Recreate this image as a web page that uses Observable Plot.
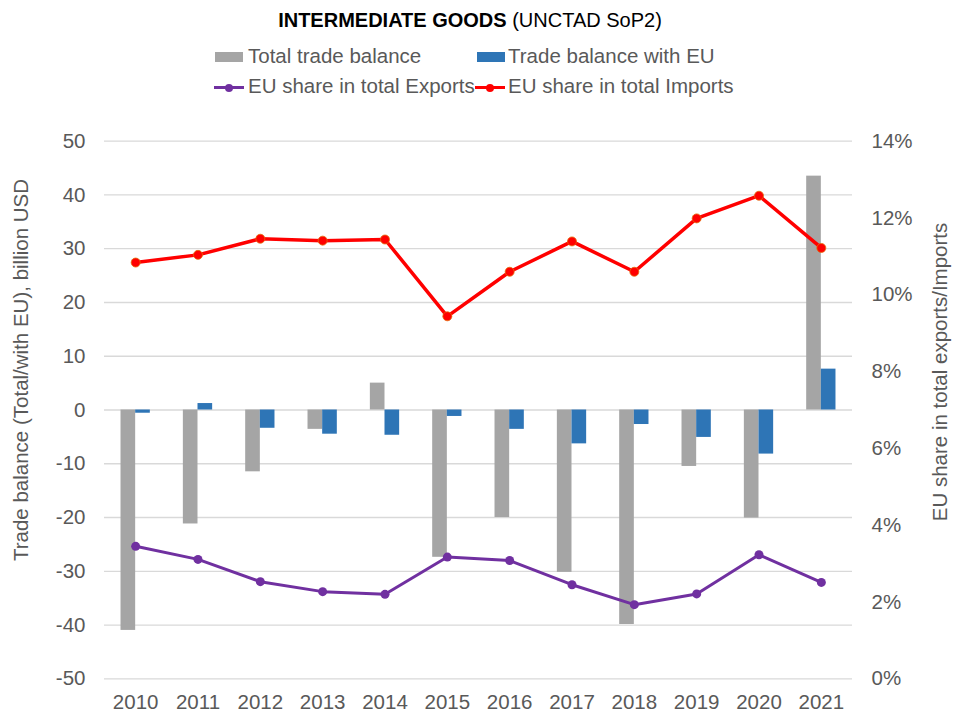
<!DOCTYPE html>
<html>
<head>
<meta charset="utf-8">
<script src="https://cdn.jsdelivr.net/npm/d3@7"></script>
<script src="https://cdn.jsdelivr.net/npm/@observablehq/plot@0.6"></script>
<style>
  body { margin: 0; background: #fff; font-family: "Liberation Sans", Arial, sans-serif; }
  #wrap { width: 953px; }
  #header { position: relative; height: 110px; }
  .t { position: absolute; white-space: nowrap; line-height: 1; }
  .title { font-size: 20px; color: #000; left: 470px; top: 10px; transform: translateX(-50%); }
  .leg { font-size: 20.5px; color: #595959; }
  .sw { position: absolute; width: 28px; height: 10px; }
  .ln { position: absolute; width: 30px; height: 3px; }
  .dt { position: absolute; width: 8px; height: 8px; border-radius: 50%; }
</style>
</head>
<body>
<div id="wrap">
  <div id="header"></div>
  <div id="chart"></div>
</div>
<script>
// ---- data ----
const years = [2010, 2011, 2012, 2013, 2014, 2015, 2016, 2017, 2018, 2019, 2020, 2021];
const totalBalance = [-41.0, -21.2, -11.5, -3.6, 5.0, -27.4, -20.0, -30.2, -39.9, -10.5, -20.1, 43.5];
const euBalance = [-0.6, 1.2, -3.4, -4.5, -4.7, -1.2, -3.6, -6.3, -2.7, -5.1, -8.2, 7.6];
const euShareExports = [3.45, 3.11, 2.53, 2.27, 2.20, 3.17, 3.08, 2.45, 1.93, 2.21, 3.23, 2.51];
const euShareImports = [10.84, 11.04, 11.46, 11.41, 11.44, 9.44, 10.60, 11.39, 10.60, 11.99, 12.58, 11.22];
const leftTicks = [-50, -40, -30, -20, -10, 0, 10, 20, 30, 40, 50];
const rightTicks = [0, 2, 4, 6, 8, 10, 12, 14];
const titleBold = "INTERMEDIATE GOODS";
const titleRest = " (UNCTAD SoP2)";
const seriesNames = ["Total trade balance", "Trade balance with EU", "EU share in total Exports", "EU share in total Imports"];
const colors = ["#a5a5a5", "#2e75b6", "#7030a0", "#ff0000"];
const leftTitle = "Trade balance (Total/with EU), billion USD";
const rightTitle = "EU share in total exports/Imports";

const rows = years.map((year, i) => ({
  year, total: totalBalance[i], eu: euBalance[i], exp: euShareExports[i], imp: euShareImports[i]
}));

// ---- header (title + legend) ----
const header = document.getElementById("header");
header.innerHTML = `
  <div class="t title"><b>${titleBold}</b>${titleRest}</div>
  <div class="sw" style="left:215px;top:52px;background:${colors[0]}"></div>
  <div class="t leg" style="left:248px;top:46px">${seriesNames[0]}</div>
  <div class="sw" style="left:477px;top:52px;background:${colors[1]}"></div>
  <div class="t leg" style="left:508px;top:46px">${seriesNames[1]}</div>
  <div class="ln" style="left:214px;top:86px;background:${colors[2]}"></div>
  <div class="dt" style="left:225px;top:83.5px;background:${colors[2]}"></div>
  <div class="t leg" style="left:248px;top:76px">${seriesNames[2]}</div>
  <div class="ln" style="left:475px;top:86px;background:${colors[3]}"></div>
  <div class="dt" style="left:486px;top:83.5px;background:${colors[3]}"></div>
  <div class="t leg" style="left:508px;top:76px">${seriesNames[3]}</div>
`;

// ---- chart ----
const bw = 0.235; // bar width in year units
const share2y = p => -50 + p / 14 * 100;
const font = "Liberation Sans, Arial, sans-serif";

const chart = Plot.plot({
  width: 953,
  height: 606,
  marginTop: 30.7,
  marginBottom: 37.7,
  marginLeft: 104,
  marginRight: 101,
  style: { fontFamily: font, fontSize: "20.5px", color: "#595959", background: "#fff", overflow: "visible" },
  x: { domain: [2009.5, 2021.5] },
  y: { domain: [-50, 50] },
  marks: [
    Plot.ruleY(leftTicks, { stroke: "#d9d9d9", strokeWidth: 1.3 }),
    Plot.rect(rows, { x1: d => d.year - bw, x2: "year", y1: 0, y2: "total", fill: colors[0] }),
    Plot.rect(rows, { x1: "year", x2: d => d.year + bw, y1: 0, y2: "eu", fill: colors[1] }),
    Plot.line(rows, { x: "year", y: d => share2y(d.imp), stroke: colors[3], strokeWidth: 3.5 }),
    Plot.dot(rows, { x: "year", y: d => share2y(d.imp), r: 4.5, fill: colors[3], stroke: "#e46c0a", strokeWidth: 0.8 }),
    Plot.line(rows, { x: "year", y: d => share2y(d.exp), stroke: colors[2], strokeWidth: 3 }),
    Plot.dot(rows, { x: "year", y: d => share2y(d.exp), r: 4.5, fill: colors[2] }),
    Plot.axisX({ ticks: years, tickFormat: d => String(d), tickSize: 0, tickPadding: 16, label: null }),
    Plot.axisY({ anchor: "left", ticks: leftTicks, tickFormat: d => String(d), tickSize: 0, tickPadding: 19, label: null }),
    Plot.axisY({ anchor: "right", ticks: rightTicks.map(share2y), tickFormat: v => Math.round((v + 50) * 14 / 100) + "%", tickSize: 0, tickPadding: 19, label: null }),
    Plot.text([leftTitle], { frameAnchor: "left", textAnchor: "middle", rotate: -90, dx: -83, dy: -40, fill: "#595959", fontSize: 20.5 }),
    Plot.text([rightTitle], { frameAnchor: "right", textAnchor: "middle", rotate: -90, dx: 88, dy: -38, fill: "#595959", fontSize: 20.5 })
  ]
});
document.getElementById("chart").appendChild(chart);
</script>
</body>
</html>
